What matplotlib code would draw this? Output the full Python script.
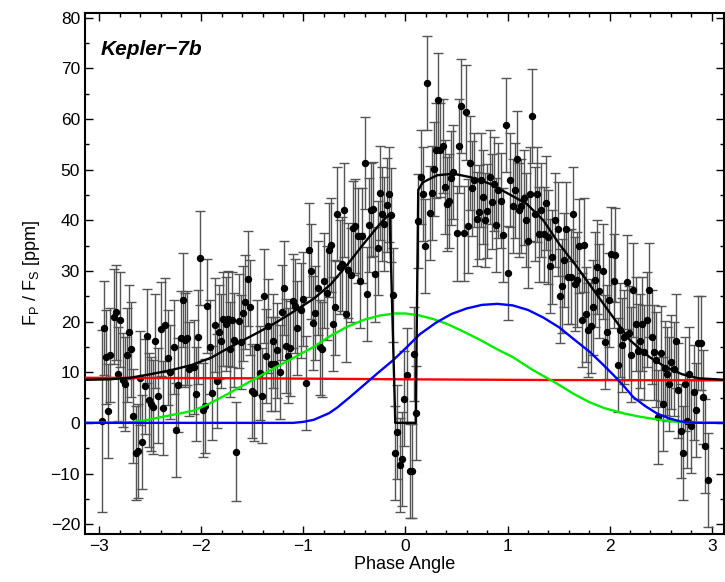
import matplotlib
matplotlib.use("Agg")
import matplotlib.pyplot as plt

plt.rcParams['font.family'] = ['Liberation Sans', 'DejaVu Sans']
plt.rcParams['mathtext.default'] = 'regular'

# binned phase curve data (phase angle, flux in ppm)
phase = [
    -2.97, -2.95, -2.93, -2.91, -2.89, -2.86, -2.84, -2.82, -2.80, -2.77,
    -2.75, -2.73, -2.71, -2.69, -2.67, -2.64, -2.62, -2.60, -2.58, -2.55,
    -2.53, -2.51, -2.49, -2.47, -2.45, -2.42, -2.40, -2.38, -2.36, -2.33,
    -2.31, -2.27, -2.25, -2.23, -2.20, -2.18, -2.16, -2.14, -2.12,
    -2.07, -2.05, -2.03, -2.01, -1.98, -1.96, -1.94, -1.92, -1.90, -1.87,
    -1.85, -1.83, -1.81, -1.79, -1.76, -1.74, -1.72, -1.70, -1.68, -1.66,
    -1.63, -1.61, -1.59, -1.57, -1.54, -1.52, -1.50, -1.48, -1.45, -1.43,
    -1.41, -1.39, -1.37, -1.35, -1.32, -1.30, -1.28, -1.26, -1.23, -1.21,
    -1.19, -1.17, -1.15, -1.13, -1.10, -1.08, -1.06,
    -1.02, -1.00, -0.97, -0.95, -0.93, -0.91, -0.89, -0.86, -0.84, -0.82,
    -0.80, -0.77, -0.75, -0.73, -0.71, -0.69, -0.67, -0.64, -0.62, -0.60,
    -0.58, -0.56, -0.53, -0.51, -0.49, -0.47, -0.45, -0.43, -0.40, -0.38,
    -0.36, -0.34, -0.32, -0.30, -0.27, -0.25, -0.23, -0.21, -0.18, -0.16,
    -0.14, -0.12, -0.10, -0.08, -0.05, -0.03, -0.01, 0.01, 0.04, 0.06,
    0.08, 0.10,
    0.12, 0.15, 0.17, 0.19, 0.21, 0.24, 0.26, 0.28, 0.30, 0.32,
    0.34, 0.37, 0.39, 0.41, 0.43, 0.45, 0.47, 0.50, 0.52, 0.54,
    0.57, 0.59, 0.61, 0.63, 0.65, 0.67, 0.70, 0.72, 0.74, 0.76,
    0.78, 0.80, 0.83, 0.85, 0.87, 0.89, 0.91, 0.94, 0.96, 0.98,
    1.00, 1.02,
    1.05, 1.07, 1.09, 1.11, 1.13, 1.16, 1.18, 1.20, 1.22, 1.24,
    1.27, 1.29, 1.31, 1.33, 1.36, 1.38, 1.40, 1.42, 1.44, 1.46,
    1.49, 1.51, 1.53, 1.55, 1.57, 1.59, 1.62, 1.64, 1.66, 1.68,
    1.70, 1.73, 1.75, 1.77, 1.79, 1.82, 1.84, 1.86, 1.88, 1.90,
    1.93, 1.95, 1.97, 1.99, 2.01, 2.04, 2.05,
    2.08, 2.10, 2.12, 2.14, 2.17, 2.19, 2.21, 2.23, 2.26, 2.28,
    2.30, 2.32, 2.34, 2.37, 2.39, 2.41, 2.43, 2.45, 2.47, 2.50,
    2.52, 2.54, 2.56, 2.58, 2.60, 2.63, 2.65, 2.67, 2.70, 2.72,
    2.74, 2.76, 2.78, 2.80, 2.83, 2.85, 2.87, 2.89, 2.91, 2.93,
    2.96,
]
flux = [
    0.4, 18.8, 13.0, 2.4, 13.4, 21.0, 21.8, 9.7, 20.4, 8.4,
    7.7, 13.4, 18.0, 14.5, 1.3, -6.0, -5.6, 8.8, -3.8, 7.2,
    17.2, 4.5, 3.8, 3.2, 16.2, 5.4, 18.5, 3.0, 19.3, 12.9,
    10.0, 15.0, -1.4, 7.4, 16.7, 24.3, 16.4, 16.7, 10.7,
    11.0, 5.7, 17.0, 32.6, 2.5, 3.3, 23.1, 15.0, 5.9, 19.3,
    8.2, 17.9, 16.2, 20.5, 19.5, 20.6, 14.5, 20.4, 16.3, -5.7,
    20.1, 15.9, 21.6, 23.8, 28.5, 22.8, 6.3, 5.8, 14.9, 9.9,
    5.4, 25.1, 13.2, 19.1, 11.7, 16.1, 11.6, 14.3, 10.1, 21.8,
    26.6, 15.1, 13.3, 14.7, 24.1, 23.0, 18.8,
    22.2, 24.5, 7.9, 34.2, 29.9, 19.7, 21.7, 26.7, 14.9, 14.5,
    28.1, 25.6, 34.1, 35.2, 19.5, 22.8, 41.2, 30.8, 31.4, 42.1,
    21.4, 30.1, 29.2, 38.5, 38.9, 37.0, 28.1, 37.0, 51.3, 25.5,
    39.1, 42.1, 42.2, 29.3, 34.5, 45.4, 41.2, 39.2, 43.0, 45.1,
    41.0, 25.2, -5.9, -1.8, -8.3, -7.2, 4.8, 9.4, -9.5, -9.5,
    13.6, 1.9,
    39.8, 48.5, 45.2, 35.0, 67.1, 41.4, 45.4, 50.1, 53.8, 63.8,
    53.9, 54.6, 46.5, 43.3, 43.8, 48.4, 49.6, 37.4, 54.7, 62.6,
    37.4, 61.3, 38.8, 51.3, 46.3, 47.9, 40.2, 41.6, 47.9, 44.6,
    40.1, 41.8, 48.5, 43.7, 47.2, 39.1, 45.9, 43.9, 37.1, 58.8,
    29.6, 47.9,
    42.9, 45.9, 52.2, 42.0, 42.9, 44.5, 40.0, 35.9, 45.2, 60.6,
    41.2, 45.1, 37.2, 42.0, 37.2, 43.4, 36.7, 31.0, 32.7, 40.0,
    38.3, 25.1, 27.0, 32.2, 38.3, 28.8, 28.9, 41.3, 27.5, 28.3,
    34.9, 20.3, 35.1, 21.4, 18.4, 19.1, 22.8, 28.3, 30.8, 26.0,
    29.9, 15.9, 17.9, 24.2, 33.4, 28.0, 33.1,
    11.4, 18.3, 15.3, 17.0, 27.8, 17.8, 13.5, 26.3, 19.5, 14.1,
    16.2, 19.5, 13.9, 20.4, 26.3, 17.0, 13.9, 12.5, 1.1, 13.7,
    3.8, 10.9, 9.6, 7.6, 12.0, 10.7, 16.2, 6.4, -1.6, -6.0,
    7.6, 0.4, 9.6, -0.6, 6.0, 2.5, 15.7, 15.8, 5.1, -4.6,
    -11.3,
]
flux_err = [
    18.0, 9.3, 9.3, 9.3, 9.3, 9.3, 9.3, 9.3, 9.3, 9.3,
    9.3, 9.3, 9.3, 9.3, 9.3, 9.3, 9.3, 9.3, 9.3, 9.3,
    9.3, 9.3, 9.3, 9.3, 9.3, 9.3, 9.3, 9.3, 9.3, 9.3,
    9.3, 9.3, 9.3, 9.3, 9.3, 9.3, 9.3, 9.3, 9.3,
    9.3, 9.3, 9.3, 9.3, 9.3, 9.3, 9.3, 9.3, 9.3, 9.3,
    9.3, 9.3, 9.3, 9.3, 9.3, 9.3, 9.3, 9.3, 9.3, 9.8,
    9.3, 9.3, 9.3, 9.3, 9.3, 9.3, 9.3, 9.3, 9.3, 9.3,
    9.3, 9.3, 9.3, 9.3, 9.3, 9.3, 9.3, 9.3, 9.3, 9.3,
    9.3, 9.3, 9.3, 9.3, 9.3, 9.3, 9.3,
    9.3, 9.3, 9.3, 9.3, 9.3, 9.3, 9.3, 9.3, 9.3, 9.3,
    9.3, 9.3, 9.3, 9.3, 9.3, 9.3, 9.3, 9.3, 9.3, 9.3,
    9.3, 9.3, 9.3, 9.3, 9.3, 9.3, 9.3, 9.3, 9.1, 9.3,
    9.3, 9.3, 9.3, 9.3, 9.3, 9.3, 9.3, 9.3, 9.3, 9.3,
    9.3, 9.3, 9.3, 9.3, 9.3, 9.3, 9.3, 9.3, 9.3, 9.3,
    9.3, 9.3,
    9.3, 9.3, 9.3, 9.3, 9.3, 9.3, 9.3, 9.3, 9.3, 9.3,
    9.3, 9.3, 9.3, 9.3, 9.3, 9.3, 9.3, 9.3, 9.3, 9.3,
    9.3, 9.3, 9.3, 9.3, 9.3, 9.3, 9.3, 9.3, 9.3, 9.3,
    9.3, 9.3, 9.3, 9.3, 9.3, 9.3, 9.3, 9.3, 9.3, 9.3,
    9.3, 9.3,
    9.3, 9.3, 9.3, 9.3, 9.3, 9.3, 9.3, 9.3, 9.3, 9.3,
    9.3, 9.3, 9.3, 9.3, 9.3, 9.3, 9.3, 9.3, 9.3, 9.3,
    9.3, 9.3, 9.3, 9.3, 9.3, 9.3, 9.3, 9.3, 9.3, 9.3,
    9.3, 9.3, 9.3, 9.3, 9.3, 9.3, 9.3, 9.3, 9.3, 9.3,
    9.3, 9.3, 9.3, 9.3, 9.3, 9.3, 9.3,
    9.3, 9.3, 9.3, 9.3, 9.3, 9.3, 9.3, 9.3, 9.3, 9.3,
    9.3, 9.3, 9.3, 9.3, 9.3, 9.3, 9.3, 9.3, 9.3, 9.3,
    9.3, 9.3, 9.3, 9.3, 9.3, 9.3, 9.3, 9.3, 9.3, 9.3,
    9.3, 9.3, 9.3, 9.3, 9.3, 9.3, 9.3, 9.3, 9.3, 9.3,
    9.3,
]

# model components
black_x = [-3.14, -2.9, -2.7, -2.5, -2.3, -2.1, -1.9, -1.76, -1.6, -1.44,
           -1.27, -1.11, -0.9, -0.73, -0.58, -0.4, -0.25, -0.155, -0.10,
           0.10, 0.125, 0.17, 0.31, 0.47, 0.64, 0.83, 1.03, 1.19, 1.35,
           1.51, 1.68, 1.84, 2.0, 2.2, 2.39, 2.55, 2.71, 2.87, 3.14]
black_y = [8.5, 8.6, 8.9, 9.6, 10.4, 11.4, 12.9, 14.5, 16.2, 17.9,
           19.8, 21.8, 24.5, 27.4, 31.0, 35.6, 39.3, 41.3, 0.0,
           0.0, 46.0, 47.5, 48.9, 49.2, 48.5, 47.2, 45.0, 43.2, 40.0,
           35.2, 30.8, 26.3, 21.8, 16.3, 13.0, 11.0, 9.6, 8.8, 8.5]

red_x = [-3.14, -1.5, 0.0, 1.5, 3.14]
red_y = [8.9, 8.8, 8.6, 8.45, 8.4]

blue_x = [-3.14, -1.1, -1.0, -0.9, -0.75, -0.67, -0.55, -0.4, -0.28, -0.12,
          0.0, 0.14, 0.3, 0.45, 0.6, 0.75, 0.9, 1.05, 1.2, 1.35,
          1.51, 1.65, 1.8, 1.92, 2.03, 2.15, 2.23, 2.35, 2.46, 2.58,
          2.69, 2.8, 2.9, 3.14]
blue_y = [0, 0, 0.2, 0.6, 1.9, 3.0, 5.0, 7.6, 9.7, 12.4,
          14.7, 17.5, 19.8, 21.5, 22.6, 23.3, 23.5, 23.2, 22.3, 20.8,
          18.8, 16.5, 14.1, 11.8, 9.6, 7.0, 5.1, 3.3, 1.9, 0.9,
          0.3, 0.05, 0, 0]

green_x = [-3.14, -2.7, -2.55, -2.38, -2.2, -2.08, -1.92, -1.76, -1.6, -1.44,
           -1.27, -1.11, -0.9, -0.75, -0.58, -0.4, -0.25, -0.1, 0.0, 0.14,
           0.27, 0.40, 0.55, 0.73, 0.9, 1.05, 1.25, 1.48, 1.65, 1.80,
           1.95, 2.13, 2.3, 2.46, 2.6, 2.75, 3.14]
green_y = [0, 0.1, 0.5, 1.2, 1.9, 2.4, 3.8, 5.5, 7.3, 9.1,
           11.0, 12.7, 15.0, 17.0, 18.9, 20.4, 21.2, 21.6, 21.6, 21.2,
           20.5, 19.6, 18.2, 16.4, 14.5, 13.0, 10.4, 7.8, 5.7, 4.1,
           2.9, 1.9, 1.2, 0.7, 0.3, 0.1, 0]

fig = plt.figure(figsize=(7.25, 5.82), dpi=100)
ax = fig.add_axes([0.1172, 0.082, 0.8814, 0.8962])

markers, caps, bars = ax.errorbar(phase, flux, yerr=flux_err, fmt='o',
                                  color='black', ms=4.3, ecolor='#555555',
                                  elinewidth=1.0, capsize=3.3, capthick=1.0,
                                  zorder=2)
for c in caps:
    c.set_color('black')

ax.plot(red_x, red_y, color='#ff0000', lw=1.7, zorder=3)
ax.plot(green_x, green_y, color='#00ee00', lw=1.7, zorder=3)
ax.plot(blue_x, blue_y, color='#0000ff', lw=1.7, zorder=3)
ax.plot(black_x, black_y, color='black', lw=1.7, zorder=4)

ax.set_xlim(-3.14, 3.12)
ax.set_ylim(-22, 81)
ax.set_xticks([-3, -2, -1, 0, 1, 2, 3])
ax.set_xticks([i / 5 for i in range(-15, 16)], minor=True)
ax.set_yticks(range(-20, 81, 10))
ax.set_yticks(range(-20, 81, 5), minor=True)
ax.tick_params(which='both', direction='in', top=True, right=True,
               labelsize=12.5, width=1)
ax.tick_params(which='major', length=6)
ax.tick_params(which='minor', length=3)
for s in ax.spines.values():
    s.set_linewidth(1.5)

ax.set_xlabel('Phase Angle', fontsize=13, labelpad=1)
ax.set_ylabel('F$_P$ / F$_S$ [ppm]', fontsize=13, labelpad=6)
ax.text(0.025, 0.93, 'Kepler\u22127b', transform=ax.transAxes, fontsize=15,
        fontweight='bold', fontstyle='italic', va='center', ha='left')

fig.savefig('out.png', dpi=100)
